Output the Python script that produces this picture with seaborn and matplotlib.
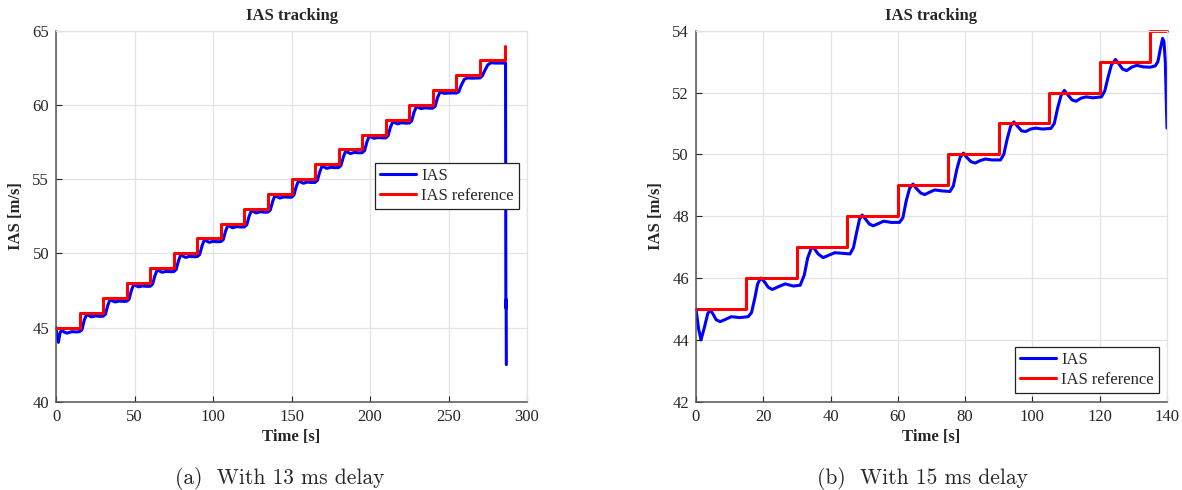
import numpy as np
import pandas as pd
import seaborn as sns
import matplotlib.pyplot as plt

# ---- (a) 13 ms delay ----
t_ref_a = [0, 15, 30, 45, 60, 75, 90, 105, 120, 135, 150, 165, 180, 195, 210, 225, 240, 255, 270, 286]
ias_ref_a = [45, 46, 47, 48, 49, 50, 51, 52, 53, 54, 55, 56, 57, 58, 59, 60, 61, 62, 63, 64]

t_ias_a = [0, 0.8, 1.5, 2.5, 3.5, 5, 7, 10, 13, 15,
           16.5, 18, 19.5, 21, 22.5, 25, 28, 30,
           31.5, 33, 34.5, 36, 37.5, 40, 43, 45,
           46.5, 48, 49.5, 51, 52.5, 55, 58, 60,
           61.5, 63, 64.5, 66, 67.5, 70, 73, 75,
           76.5, 78, 79.5, 81, 82.5, 85, 88, 90,
           91.5, 93, 94.5, 96, 97.5, 100, 103, 105,
           106.5, 108, 109.5, 111, 112.5, 115, 118, 120,
           121.5, 123, 124.5, 126, 127.5, 130, 133, 135,
           136.5, 138, 139.5, 141, 142.5, 145, 148, 150,
           151.5, 153, 154.5, 156, 157.5, 160, 163, 165,
           166.5, 168, 169.5, 171, 172.5, 175, 178, 180,
           181.5, 183, 184.5, 186, 187.5, 190, 193, 195,
           196.5, 198, 199.5, 201, 202.5, 205, 208, 210,
           211.5, 213, 214.5, 216, 217.5, 220, 223, 225,
           226.5, 228, 229.5, 231, 232.5, 235, 238, 240,
           241.5, 243, 244.5, 246, 247.5, 250, 253, 255,
           256.5, 258, 260, 262, 265, 270,
           271.5, 273, 275, 277, 280, 286.3,
           286.5, 286.6, 286.7, 286.8]
ias_a = [45.0, 44.3, 44.0, 44.6, 44.85, 44.7, 44.62, 44.72, 44.7, 44.72,
         44.85, 45.5, 45.88, 45.8, 45.72, 45.78, 45.75, 45.76,
         45.9, 46.5, 46.9, 46.8, 46.72, 46.78, 46.76, 46.77,
         46.9, 47.5, 47.9, 47.82, 47.74, 47.8, 47.77, 47.78,
         47.92, 48.5, 48.9, 48.8, 48.72, 48.78, 48.76, 48.77,
         48.9, 49.5, 49.92, 49.8, 49.72, 49.8, 49.77, 49.78,
         49.92, 50.5, 50.92, 50.82, 50.74, 50.8, 50.78, 50.79,
         50.92, 51.5, 51.9, 51.8, 51.72, 51.8, 51.77, 51.78,
         51.92, 52.5, 52.9, 52.8, 52.72, 52.8, 52.77, 52.78,
         52.92, 53.5, 53.92, 53.8, 53.72, 53.8, 53.78, 53.78,
         53.92, 54.5, 54.9, 54.8, 54.72, 54.8, 54.77, 54.78,
         54.92, 55.5, 55.9, 55.8, 55.72, 55.8, 55.77, 55.78,
         55.92, 56.5, 56.9, 56.8, 56.72, 56.8, 56.77, 56.78,
         56.92, 57.5, 57.9, 57.82, 57.75, 57.8, 57.78, 57.78,
         57.92, 58.5, 58.88, 58.8, 58.72, 58.8, 58.77, 58.78,
         58.92, 59.5, 59.88, 59.82, 59.75, 59.8, 59.78, 59.78,
         59.92, 60.5, 60.85, 60.82, 60.78, 60.8, 60.8, 60.8,
         60.88, 61.3, 61.72, 61.82, 61.8, 61.82,
         61.95, 62.3, 62.7, 62.84, 62.82, 62.82,
         47.0, 46.3, 46.9, 42.5]

# ---- (b) 15 ms delay ----
t_ref_b = [0, 15, 30, 45, 60, 75, 90, 105, 120, 135, 140]
ias_ref_b = [45, 46, 47, 48, 49, 50, 51, 52, 53, 54, 54]

t_ias_b = [0, 0.8, 1.5, 2.5, 3.5, 4.2, 5, 6, 7.2, 8.5, 10.5, 13, 15.5,
           16.5, 17.5, 18.3, 19.2, 20.2, 21.5, 22.7, 24.5, 26.5, 29, 31,
           32.2, 33.2, 34.3, 35, 36.3, 37.8, 39.5, 41.3, 43.5, 45.8,
           46.8, 47.8, 48.6, 49.4, 50.3, 51.5, 52.7, 54.2, 55.8, 58, 60.5,
           61.5, 62.5, 63.5, 64.5, 65.5, 66.8, 68, 69.5, 71, 73, 75.5,
           76.5, 77.5, 78.5, 79.5, 80.5, 81.8, 83, 84.5, 86, 88, 90.5,
           91.5, 92.5, 93.5, 94.5, 95.5, 96.8, 98, 99.5, 101, 103, 105.5,
           106.5, 107.5, 108.5, 109.5, 110.5, 111.8, 113, 114.5, 116, 118, 120.5,
           121.5, 122.5, 123.5, 124.7, 125.7, 126.8, 128, 129.5, 131, 133, 135,
           136.5, 137.3, 138, 138.7, 139.1, 139.5, 140]
ias_b = [45.0, 44.35, 44.0, 44.4, 44.85, 44.97, 44.85, 44.65, 44.59, 44.65, 44.75, 44.72, 44.75,
         44.88, 45.35, 45.8, 46.0, 45.9, 45.7, 45.63, 45.72, 45.81, 45.74, 45.77,
         46.1, 46.65, 46.97, 46.98, 46.78, 46.66, 46.74, 46.82, 46.8, 46.78,
         46.98, 47.5, 47.9, 48.04, 47.92, 47.75, 47.69, 47.76, 47.84, 47.8, 47.8,
         47.95, 48.5, 48.9, 49.04, 48.9, 48.75, 48.7, 48.78, 48.85, 48.82, 48.8,
         48.98, 49.5, 49.9, 50.04, 49.9, 49.76, 49.72, 49.8, 49.85, 49.82, 49.82,
         50.0, 50.5, 50.9, 51.05, 50.92, 50.76, 50.74, 50.82, 50.85, 50.82, 50.84,
         51.0, 51.5, 51.9, 52.07, 51.93, 51.76, 51.72, 51.82, 51.86, 51.83, 51.86,
         52.05, 52.5, 52.9, 53.07, 52.93, 52.76, 52.71, 52.82, 52.88, 52.83, 52.82,
         52.86, 53.0, 53.4, 53.75, 53.65, 53.0, 50.85]

sns.set_style("whitegrid")
plt.rcParams['font.family'] = ['Liberation Serif', 'DejaVu Serif']
plt.rcParams['font.size'] = 12
plt.rcParams['xtick.direction'] = 'in'
plt.rcParams['ytick.direction'] = 'in'

fig = plt.figure(figsize=(11.82, 4.9), dpi=100)
ax_a = fig.add_axes([0.0474, 0.1802, 0.3985, 0.7571])
ax_b = fig.add_axes([0.5888, 0.1802, 0.3985, 0.7571])

panels = [
    (ax_a, t_ias_a, ias_a, t_ref_a, ias_ref_a, (0, 300), (40, 65), np.arange(0, 301, 50), np.arange(40, 66, 5),
     dict(loc='upper right', bbox_to_anchor=(0.983, 0.643))),
    (ax_b, t_ias_b, ias_b, t_ref_b, ias_ref_b, (0, 140), (42, 54), np.arange(0, 141, 20), np.arange(42, 55, 2),
     dict(loc='lower right', bbox_to_anchor=(0.983, 0.023))),
]

for ax, t, v, tr, vr, xl, yl, xt, yt, legkw in panels:
    sns.lineplot(x=t, y=v, ax=ax, color='#0000ff', lw=2.2, estimator=None, sort=False, label='IAS')
    sns.lineplot(x=tr, y=vr, ax=ax, color='#ff0000', lw=2.2, estimator=None, sort=False,
                 drawstyle='steps-post', label='IAS reference', clip_on=False)
    ax.set_xlim(*xl)
    ax.set_ylim(*yl)
    ax.set_xticks(xt)
    ax.set_yticks(yt)
    ax.grid(True, color='#e3e3e3', lw=0.9)
    for s in ['left', 'bottom']:
        ax.spines[s].set_color('#555555')
        ax.spines[s].set_linewidth(1.1)
    for s in ['top', 'right']:
        ax.spines[s].set_color('#e3e3e3')
        ax.spines[s].set_linewidth(0.9)
    ax.tick_params(axis='both', colors='#262626', labelsize=12, length=4, width=0.8,
                   bottom=True, left=True, top=False, right=False, pad=5)
    ax.set_title('IAS tracking', fontsize=12, fontweight='bold', pad=8)
    ax.set_xlabel('Time [s]', fontsize=12, fontweight='bold', labelpad=3)
    ax.set_ylabel('IAS [m/s]', fontsize=12, fontweight='bold', labelpad=6)
    leg = ax.legend(fontsize=12, frameon=True, fancybox=False, framealpha=1, edgecolor='#222222',
                    handlelength=2.2, handletextpad=0.3, borderpad=0.3, labelspacing=0.25,
                    borderaxespad=0, **legkw)
    leg.get_frame().set_linewidth(0.9)

fig.text(280 / 1182, 1 - 478 / 490, '(a)  With 13 ms delay', family='cmr10', fontsize=15.5, ha='center', va='center')
fig.text(922 / 1182, 1 - 478 / 490, '(b)  With 15 ms delay', family='cmr10', fontsize=15.5, ha='center', va='center')

fig.savefig('out.png', dpi=100)
